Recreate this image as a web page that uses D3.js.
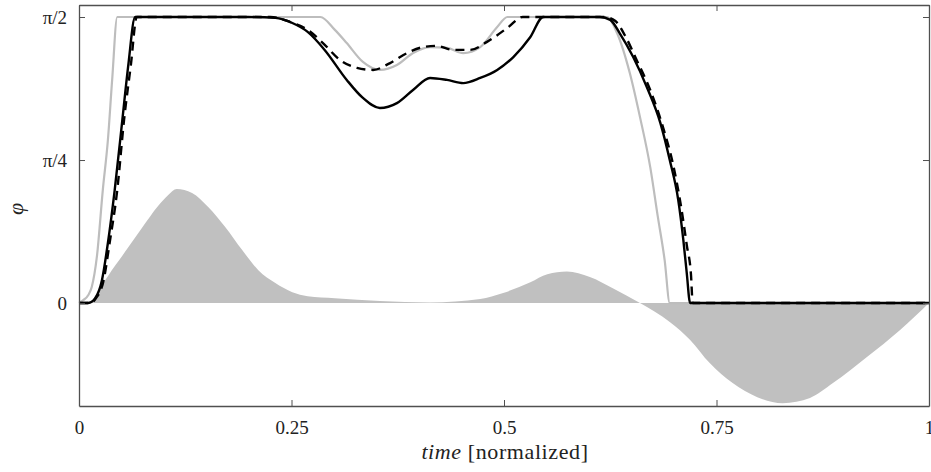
<!DOCTYPE html>
<html><head><meta charset="utf-8">
<script src="https://cdn.jsdelivr.net/npm/d3@7"></script>
<style>
html,body{margin:0;padding:0;background:#fff;}
svg{display:block;}
svg text{font-family:"Liberation Serif","Times New Roman",Times,"DejaVu Serif",serif !important;fill:#222;}
</style></head>
<body>
<svg id="chart" width="931" height="472"></svg>
<script>
// y values in units of pi/2
const xTicks = [0, 0.25, 0.5, 0.75, 1];
const xTickLabels = ["0", "0.25", "0.5", "0.75", "1"];
const yTicks = [0, 0.5, 1];
const yTickLabels = ["0", "\u03c0/4", "\u03c0/2"];

const areaT = [0,.007,.019,.025,.034,.054,.074,.093,.105,.115,.133,.152,.172,.192,.211,.231,.251,.269,.301,.354,.413,.472,.499,.531,.551,.574,.601,.628,.660,.695,.719,.742,.769,.798,.828,.860,.887,.927,.966,1];
const areaV = [0,.003,.017,.052,.094,.178,.262,.339,.378,.399,.385,.336,.266,.185,.115,.070,.038,.024,.017,.007,.002,.014,.035,.073,.101,.110,.091,.052,0,-.066,-.129,-.210,-.280,-.329,-.350,-.332,-.280,-.189,-.094,0];

const grayT = [0,.005,.011,.015,.021,.028,.034,.039,.045,.284,.301,.315,.334,.354,.374,.393,.413,.433,.452,.472,.492,.504,.621,.633,.648,.660,.672,.681,.689,.695,1];
const grayV = [0,.010,.028,.056,.161,.395,.570,.780,1,1,.955,.909,.843,.815,.832,.874,.895,.892,.874,.895,.965,1,1,.944,.804,.650,.476,.301,.150,0,0];

const solidT = [0,.011,.019,.027,.034,.042,.051,.058,.066,.199,.231,.251,.269,.289,.315,.334,.354,.374,.393,.413,.433,.452,.472,.492,.511,.531,.546,.613,.625,.636,.652,.668,.684,.695,.705,.711,.715,.719,1];
const solidV = [0,0,.017,.080,.210,.395,.640,.832,1,1,.997,.979,.948,.885,.780,.717,.682,.699,.745,.787,.780,.769,.787,.815,.860,.930,1,1,.990,.944,.860,.755,.629,.500,.360,.220,.105,0,0];

const dashT = [0,.013,.020,.029,.036,.045,.053,.061,.068,.225,.248,.269,.287,.307,.327,.346,.366,.386,.405,.421,.440,.460,.480,.504,.522,.619,.631,.642,.656,.672,.687,.699,.708,.715,.720,.722,1];
const dashV = [0,0,.017,.080,.210,.395,.640,.832,1,1,.983,.955,.909,.850,.822,.815,.839,.874,.895,.899,.885,.885,.913,.962,1,1,.986,.937,.850,.745,.615,.483,.343,.203,.098,0,0];

const svg = d3.select("#chart");
const L = 79, R = 929, T = 5, B = 406;
const x = d3.scaleLinear().domain([0, 1]).range([L, R]);
const y = d3.scaleLinear().domain([-0.36, 1.042]).range([B, T]);

const zip = (a, b) => a.map((t, i) => [t, b[i]]);

svg.append("path")
  .datum(zip(areaT, areaV))
  .attr("fill", "#c0c0c0")
  .attr("d", d3.area().x(d => x(d[0])).y0(y(0)).y1(d => y(d[1])).curve(d3.curveMonotoneX));

const line = d3.line().x(d => x(d[0])).y(d => y(d[1])).curve(d3.curveMonotoneX);

svg.append("path").datum(zip(grayT, grayV))
  .attr("fill", "none").attr("stroke", "#bdbdbd").attr("stroke-width", 2.2).attr("d", line);
svg.append("path").datum(zip(dashT, dashV))
  .attr("fill", "none").attr("stroke", "#000").attr("stroke-width", 2.4)
  .attr("stroke-dasharray", "9,6").attr("d", line);
svg.append("path").datum(zip(solidT, solidV))
  .attr("fill", "none").attr("stroke", "#000").attr("stroke-width", 2.4).attr("d", line);

// axes box
const axisColor = "#505050";
const tickLen = 6;
const serif = "'Liberation Serif','Times New Roman',Times,'DejaVu Serif',serif";
const gx = svg.append("g").attr("transform", `translate(0,${B})`)
  .call(d3.axisBottom(x).tickValues(xTicks).tickFormat((d, i) => xTickLabels[i]).tickSizeInner(-tickLen).tickSizeOuter(0).tickPadding(15));
const gxt = svg.append("g").attr("transform", `translate(0,${T})`)
  .call(d3.axisTop(x).tickValues(xTicks).tickFormat("").tickSizeInner(-tickLen).tickSizeOuter(0));
const gy = svg.append("g").attr("transform", `translate(${L},0)`)
  .call(d3.axisLeft(y).tickValues(yTicks).tickFormat((d, i) => yTickLabels[i]).tickSizeInner(-tickLen).tickSizeOuter(0).tickPadding(12));
const gyr = svg.append("g").attr("transform", `translate(${R},0)`)
  .call(d3.axisRight(y).tickValues(yTicks).tickFormat("").tickSizeInner(-tickLen).tickSizeOuter(0));

[gx, gxt, gy, gyr].forEach(g => {
  g.attr("font-family", serif);
  g.select(".domain").attr("stroke", axisColor).attr("stroke-width", 1.3);
  g.selectAll(".tick line").attr("stroke", axisColor).attr("stroke-width", 1);
  g.selectAll("text").attr("font-family", serif).attr("font-size", 19).attr("fill", "#222");
});

svg.append("text")
  .attr("x", (L + R) / 2 + 1).attr("y", 459)
  .attr("font-family", serif)
  .attr("text-anchor", "middle").attr("font-size", 22).attr("letter-spacing", 0.6)
  .html('<tspan font-style="italic">time</tspan> [normalized]');

svg.append("text")
  .attr("transform", "translate(23,209) rotate(-90)")
  .attr("font-family", serif)
  .attr("text-anchor", "middle").attr("font-size", 22).attr("font-style", "italic")
  .text("\u03c6");
</script>
</body></html>
